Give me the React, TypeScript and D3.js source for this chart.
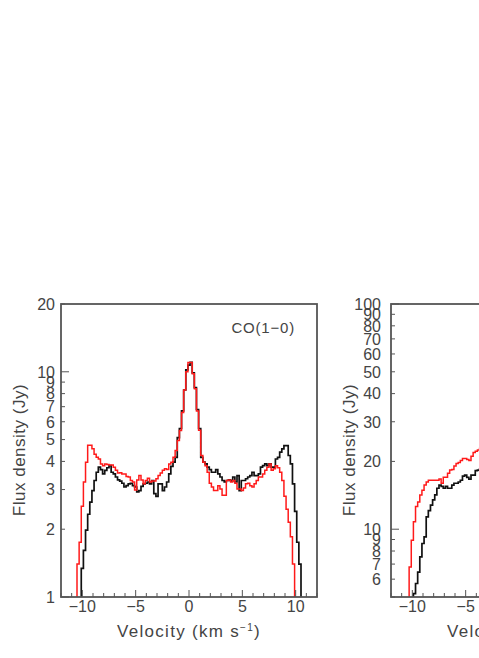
import { useEffect, useRef } from "react";
import * as d3 from "d3";

// histogram bins: 0.2 km/s wide, first edge at -10.7 km/s
const binStart = -10.7;
const binWidth = 0.2;

// CO(1-0) panel, flux density (Jy) per bin
const coBlack = [
  0, 0, 0, 1.34, 1.61, 1.98, 2.33, 2.64, 2.97, 3.29,
  3.58, 3.77, 3.68, 3.52, 3.65, 3.75, 3.83, 3.58, 3.52, 3.41,
  3.31, 3.27, 3.2, 3.08, 3.12, 3.18, 3.2, 3.12, 3.08, 2.93,
  2.97, 3.1, 3.18, 3.2, 3.24, 3.18, 3.29, 2.88, 2.8, 3.18,
  3.18, 2.97, 3.08, 3.24, 3.52, 3.8, 3.97, 4.17, 5.1, 5.6,
  6.7, 8.3, 10.2, 10.7, 11.0, 9.9, 8.5, 6.8, 5.6, 4.17,
  3.97, 3.9, 3.77, 3.68, 3.58, 3.58, 3.68, 3.52, 3.41, 3.29,
  3.24, 3.29, 3.31, 3.27, 3.41, 3.24, 3.46, 2.97, 3.29, 3.29,
  3.35, 3.41, 3.46, 3.58, 3.46, 3.46, 3.52, 3.77, 3.83, 3.9,
  3.83, 3.9, 3.77, 3.77, 4.1, 4.17, 4.4, 4.55, 4.7, 4.7,
  4.25, 3.9, 3.18, 2.4, 1.75, 1.4, 0,
];
const coRed = [
  0, 1.4, 1.75, 2.53, 3.24, 3.97, 4.72, 4.72, 4.55, 4.3,
  4.17, 4.1, 3.9, 3.83, 3.9, 3.88, 3.86, 3.86, 3.77, 3.65,
  3.55, 3.56, 3.52, 3.52, 3.43, 3.41, 3.29, 3.24, 2.99, 3.31,
  3.46, 3.31, 3.18, 3.29, 3.37, 3.24, 3.27, 3.27, 3.35, 3.46,
  3.55, 3.65, 3.71, 3.68, 3.9, 3.97, 4.17, 4.47, 4.95, 5.48,
  6.6, 8.3, 10.0, 11.0, 11.0, 9.8, 8.4, 6.7, 5.5, 4.25,
  3.97, 3.83, 3.58, 3.2, 3.08, 2.97, 2.97, 3.12, 3.02, 2.83,
  2.83, 3.29, 3.31, 3.24, 3.29, 3.2, 3.02, 3.02, 2.97, 3.05,
  3.18, 3.2, 3.12, 3.08, 3.18, 3.29, 3.41, 3.41, 3.52, 3.65,
  3.77, 3.9, 3.65, 3.71, 3.83, 3.75, 3.58, 3.29, 2.8, 2.45,
  2.15, 1.85, 1.4, 0, 0, 0, 0,
];

// second panel, only its left part is on the page
const p2Black = [
  0, 0, 0, 0, 5.18, 5.74, 6.45, 7.53, 8.64, 9.24,
  11.35, 12.1, 12.8, 13.5, 14.2, 15.2, 15.7, 15.5, 15.2, 15.5,
  15.2, 15.2, 15.7, 16.0, 16.0, 16.2, 16.5, 17.2, 17.4, 17.0,
  16.7, 17.4, 17.4, 18.2, 18.3, 18.5,
];
const p2Red = [
  0, 0, 6.8, 8.94, 10.8, 12.6, 13.2, 14.2, 14.9, 15.7,
  16.2, 16.5, 16.5, 16.5, 16.5, 16.5, 16.7, 16.0, 17.0, 17.0,
  17.7, 18.3, 18.4, 19.1, 19.6, 19.8, 20.2, 20.6, 20.6, 20.4,
  20.2, 21.1, 21.9, 22.2, 22.5, 22.8,
];

const xLabels = [-10, -5, 0, 5, 10];
const coYLabels = [1, 2, 3, 4, 5, 6, 7, 8, 9, 10, 20];
const p2YLabels = [6, 7, 8, 9, 10, 20, 30, 40, 50, 60, 70, 80, 90, 100];

const FONT = "'Liberation Sans', Arial, sans-serif";
const AXIS = "#555";
const TEXT = "#444";

function drawPanel(svg, id, left, yDomain, yLabels, labelX, black, red, tag) {
  const top = 304;
  const bottom = 597;
  const x = d3.scaleLinear().domain([-12, 12]).range([left, left + 256]);
  const y = d3.scaleLog().domain(yDomain).range([bottom, top]);
  const g = svg.append("g");

  g.append("clipPath")
    .attr("id", id)
    .append("rect")
    .attr("x", left)
    .attr("y", top)
    .attr("width", 256)
    .attr("height", bottom - top);

  // step histograms, black first then red over it
  const line = d3
    .line()
    .x((d) => x(d[0]))
    .y((d) => y(Math.max(d[1], yDomain[0] * 0.5)))
    .curve(d3.curveStepAfter);
  const toPoints = (vals) => {
    const pts = vals.map((v, i) => [binStart + i * binWidth, v]);
    pts.push([binStart + vals.length * binWidth, vals[vals.length - 1]]);
    return pts;
  };
  [
    [black, "#111", 1.7],
    [red, "#ff1a1a", 1.5],
  ].forEach(([vals, color, w]) => {
    g.append("path")
      .datum(toPoints(vals))
      .attr("d", line)
      .attr("fill", "none")
      .attr("stroke", color)
      .attr("stroke-width", w)
      .attr("clip-path", `url(#${id})`);
  });

  // x ticks (inside, pointing up)
  d3.range(-12, 13).forEach((t) => {
    const major = t % 5 === 0;
    g.append("line")
      .attr("x1", x(t))
      .attr("x2", x(t))
      .attr("y1", bottom)
      .attr("y2", bottom - (major ? 7 : 4))
      .attr("stroke", AXIS)
      .attr("stroke-width", 1);
  });
  xLabels.forEach((t) => {
    g.append("text")
      .attr("x", x(t))
      .attr("y", 612)
      .attr("text-anchor", "middle")
      .attr("font-family", FONT)
      .attr("font-size", 16)
      .attr("fill", TEXT)
      .text(t < 0 ? "\u2212" + Math.abs(t) : String(t));
  });

  // y ticks on the log axis
  const decades = [1, 10, 100];
  const yTicks = [];
  decades.forEach((d) => {
    for (let k = 1; k <= 9; k++) {
      const v = d * k;
      if (v >= yDomain[0] && v <= yDomain[1]) yTicks.push(v);
    }
  });
  yTicks.forEach((t) => {
    const major = decades.includes(t);
    g.append("line")
      .attr("x1", left)
      .attr("x2", left + (major ? 8 : 4))
      .attr("y1", y(t))
      .attr("y2", y(t))
      .attr("stroke", AXIS)
      .attr("stroke-width", 1);
  });
  yLabels.forEach((t) => {
    g.append("text")
      .attr("x", labelX)
      .attr("y", y(t))
      .attr("dy", "0.36em")
      .attr("text-anchor", "end")
      .attr("font-family", FONT)
      .attr("font-size", 16)
      .attr("fill", TEXT)
      .text(String(t));
  });

  // frame
  g.append("rect")
    .attr("x", left)
    .attr("y", top)
    .attr("width", 256)
    .attr("height", bottom - top)
    .attr("fill", "none")
    .attr("stroke", AXIS)
    .attr("stroke-width", 1.8);

  // axis titles
  const xt = g
    .append("text")
    .attr("x", left + 128)
    .attr("y", 637)
    .attr("text-anchor", "middle")
    .attr("font-family", FONT)
    .attr("font-size", 17)
    .attr("letter-spacing", 1.3)
    .attr("fill", TEXT);
  xt.append("tspan").text("Velocity (km s");
  xt.append("tspan").attr("dy", -6).attr("font-size", 10).text("\u22121");
  xt.append("tspan").attr("dy", 6).text(")");

  g.append("text")
    .attr("transform", `translate(${left - 36},450) rotate(-90)`)
    .attr("text-anchor", "middle")
    .attr("font-family", FONT)
    .attr("font-size", 17)
    .attr("letter-spacing", 0.5)
    .attr("fill", TEXT)
    .text("Flux density (Jy)");

  if (tag) {
    g.append("text")
      .attr("x", left + 234)
      .attr("y", 333)
      .attr("text-anchor", "end")
      .attr("font-family", FONT)
      .attr("font-size", 15)
      .attr("letter-spacing", 0.8)
      .attr("fill", TEXT)
      .text(tag);
  }
}

export default function App() {
  const svgRef = useRef(null);

  useEffect(() => {
    const svg = d3.select(svgRef.current);
    svg.selectAll("*").remove();
    drawPanel(svg, "clipCO", 61, [1, 20], coYLabels, 55, coBlack, coRed, "CO(1\u22120)");
    drawPanel(svg, "clipP2", 391, [5, 100], p2YLabels, 381, p2Black, p2Red, null);
  }, []);

  return (
    <svg
      ref={svgRef}
      width={479}
      height={658}
      style={{ position: "absolute", left: 0, top: 0, background: "#fff" }}
    />
  );
}
